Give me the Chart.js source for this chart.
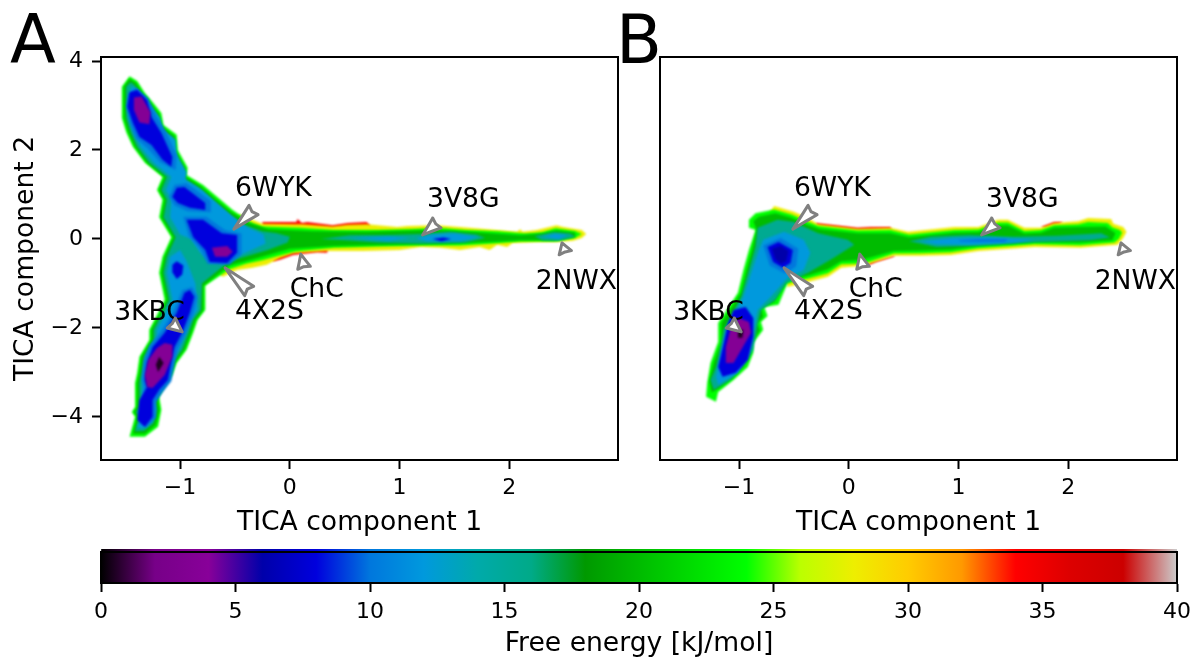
<!DOCTYPE html>
<html>
<head>
<meta charset="utf-8">
<title>Free energy landscape</title>
<script src="https://cdn.jsdelivr.net/npm/chart.js@4"></script>
<style>
    html, body { margin: 0; padding: 0; background: #fff; }
    canvas { position: absolute; }
    .tag { position: absolute; font: 67px/1 'DejaVu Sans'; color: #000; }
</style>
</head>
<body>
<canvas id="panelA" width="640" height="540" style="left:0;top:0;width:640px;height:540px"></canvas>
<canvas id="panelB" width="552" height="540" style="left:640px;top:0;width:552px;height:540px"></canvas>
<canvas id="energyBar" width="1192" height="120" style="left:0;top:540px;width:1192px;height:120px"></canvas>
<div class="tag" style="left:10px;top:7px">A</div>
<div class="tag" style="left:616px;top:7px">B</div>
<script>
const xTicks = [-1, 0, 1, 2];
const yTicks = [-4, -2, 0, 2, 4];
const barTicks = [0, 5, 10, 15, 20, 25, 30, 35, 40];
const xLabel = 'TICA component 1';
const yLabel = 'TICA component 2';
const barLabel = 'Free energy [kJ/mol]';

// nipy_spectral, one stop every 2 kJ/mol
const barStops = ['#000000', '#770088', '#880099', '#0000aa', '#0000dd', '#0077dd', '#0099dd', '#00aaaa', '#00aa88', '#009900',
    '#00bb00', '#00dd00', '#00ff00', '#bbff00', '#eeee00', '#ffcc00', '#ff9900', '#ff0000', '#dd0000', '#cc0000', '#cccccc'];

const annLabels = ['6WYK', '4X2S', 'ChC', '3V8G', '2NWX', '3KBC'];
const annTextX = [-0.50, -0.50, 0.00, 1.25, 2.24, -1.60];
const annTextY = [0.97, -1.80, -1.30, 0.72, -1.12, -1.82];
const annTipX = [-0.51, -0.59, 0.10, 1.21, 2.48, -0.98];
const annTipY = [0.22, -0.65, -0.34, 0.09, -0.09, -2.09];
const annTailX = [-0.33, -0.37, 0.13, 1.34, 2.51, -1.08];
const annTailY = [0.65, -1.17, -0.65, 0.36, -0.31, -1.89];

// contour outlines, panel A (x, y in TICA units)
const aRedTop = [[-0.25,0.38],[0.06,0.38],[0.07,0.45],[0.11,0.36],[0.16,0.38],[0.39,0.31],[0.53,0.36],[0.70,0.38],[0.73,0.31],[0.73,0.1],[-0.25,0.1]];
const aRedLow = [[-0.2,-0.3],[0.35,-0.2],[0.34,-0.31],[0.25,-0.3],[0.03,-0.36],[-0.09,-0.47],[-0.15,-0.5]];
const aYellow = [[-0.45,0.55],[-0.34,0.43],[-0.25,0.34],[0.06,0.33],[0.11,0.33],[0.39,0.28],[0.53,0.32],[0.7,0.33],[0.98,0.27],[1.07,0.29],[1.34,0.31],[1.55,0.27],[1.8,0.22],[2.07,0.16],[2.10,0.22],[2.12,0.16],[2.25,0.20],[2.43,0.31],[2.49,0.27],[2.66,0.20],[2.70,0.11],[2.66,0.02],[2.58,-0.04],[2.43,-0.07],[2.25,-0.07],[2.03,-0.09],[1.98,-0.18],[1.89,-0.13],[1.82,-0.25],[1.73,-0.18],[1.55,-0.25],[1.37,-0.20],[1.19,-0.18],[1.00,-0.25],[0.67,-0.27],[0.53,-0.27],[0.34,-0.27],[0.03,-0.32],[-0.09,-0.43],[-0.21,-0.58],[-0.34,-0.65],[-0.48,-0.70],[-0.61,-0.85],[-0.7,-0.7],[-0.7,0.3]];
const aLime = [[-1.46,3.66],[-1.39,3.55],[-1.32,3.28],[-1.25,3.08],[-1.17,2.83],[-1.15,2.56],[-1.03,2.34],[-1.02,2.00],[-0.93,1.60],[-0.94,1.44],[-0.79,1.21],[-0.66,0.94],[-0.52,0.65],[-0.39,0.43],[-0.34,0.36],[-0.25,0.28],[0.1,0.25],[0.4,0.2],[0.8,0.2],[1.1,0.22],[1.35,0.25],[1.6,0.2],[1.9,0.17],[2.15,0.12],[2.3,0.15],[2.42,0.24],[2.6,0.18],[2.66,0.11],[2.6,0.02],[2.43,-0.05],[2.1,-0.06],[1.85,-0.1],[1.55,-0.15],[1.2,-0.15],[0.8,-0.17],[0.4,-0.2],[0.05,-0.28],[-0.1,-0.38],[-0.25,-0.48],[-0.4,-0.56],[-0.55,-0.68],[-0.62,-0.8],[-0.77,-1.05],[-0.77,-1.60],[-0.84,-1.82],[-0.88,-2.11],[-0.94,-2.49],[-1.03,-2.79],[-1.07,-3.06],[-1.14,-3.33],[-1.19,-3.55],[-1.17,-3.84],[-1.20,-4.22],[-1.32,-4.45],[-1.46,-4.45],[-1.41,-4.00],[-1.44,-3.89],[-1.41,-3.78],[-1.41,-3.24],[-1.39,-3.01],[-1.37,-2.65],[-1.28,-2.27],[-1.28,-2.04],[-1.21,-1.71],[-1.14,-1.37],[-1.19,-0.76],[-1.16,-0.40],[-1.08,0.04],[-1.19,0.49],[-1.16,0.88],[-1.21,1.10],[-1.16,1.39],[-1.32,1.71],[-1.43,2.07],[-1.49,2.40],[-1.53,2.72],[-1.53,3.42]];
const aGreen = [[-1.46,3.6],[-1.40,3.5],[-1.34,3.25],[-1.27,3.05],[-1.19,2.8],[-1.17,2.53],[-1.05,2.31],[-1.04,1.97],[-0.95,1.57],[-0.96,1.41],[-0.81,1.18],[-0.68,0.9],[-0.54,0.61],[-0.38,0.37],[-0.2,0.22],[0.2,0.17],[0.7,0.16],[1.3,0.2],[1.7,0.15],[2.1,0.08],[2.3,0.12],[2.43,0.19],[2.6,0.14],[2.6,0.05],[2.4,-0.03],[2.1,-0.03],[1.8,-0.07],[1.4,-0.11],[0.9,-0.13],[0.4,-0.16],[0.0,-0.22],[-0.15,-0.33],[-0.35,-0.47],[-0.55,-0.6],[-0.79,-1.05],[-0.79,-1.6],[-0.86,-1.82],[-0.90,-2.11],[-0.96,-2.49],[-1.05,-2.79],[-1.09,-3.06],[-1.16,-3.33],[-1.21,-3.55],[-1.19,-3.84],[-1.22,-4.18],[-1.32,-4.38],[-1.43,-4.38],[-1.39,-4.0],[-1.42,-3.89],[-1.39,-3.78],[-1.39,-3.24],[-1.37,-3.01],[-1.35,-2.65],[-1.26,-2.27],[-1.26,-2.04],[-1.19,-1.71],[-1.12,-1.37],[-1.17,-0.76],[-1.14,-0.4],[-1.06,0.04],[-1.17,0.49],[-1.14,0.88],[-1.19,1.1],[-1.14,1.39],[-1.30,1.71],[-1.41,2.07],[-1.47,2.4],[-1.51,2.72],[-1.51,3.42]];
const aTeal = [[-1.45,3.52],[-1.41,3.45],[-1.36,3.2],[-1.29,3.02],[-1.21,2.77],[-1.19,2.5],[-1.07,2.28],[-1.06,1.94],[-0.97,1.54],[-0.98,1.38],[-0.83,1.15],[-0.7,0.86],[-0.56,0.57],[-0.42,0.32],[-0.25,0.17],[-0.12,0.13],[0.0,0.05],[-0.02,-0.08],[-0.2,-0.25],[-0.38,-0.38],[-0.55,-0.5],[-0.8,-1.0],[-0.81,-1.6],[-0.88,-1.82],[-0.92,-2.11],[-0.98,-2.49],[-1.07,-2.79],[-1.11,-3.06],[-1.18,-3.33],[-1.23,-3.55],[-1.21,-3.84],[-1.24,-4.14],[-1.33,-4.32],[-1.41,-4.32],[-1.37,-4.0],[-1.4,-3.89],[-1.37,-3.78],[-1.37,-3.24],[-1.35,-3.01],[-1.33,-2.65],[-1.24,-2.27],[-1.24,-2.04],[-1.17,-1.71],[-1.1,-1.37],[-1.15,-0.76],[-1.12,-0.4],[-1.04,0.04],[-1.15,0.49],[-1.12,0.88],[-1.17,1.1],[-1.12,1.39],[-1.28,1.71],[-1.39,2.07],[-1.45,2.4],[-1.49,2.72],[-1.49,3.42]];
const aTealArm = [[0.28,0.0],[0.55,0.08],[0.9,0.09],[1.2,0.11],[1.45,0.16],[1.7,0.1],[1.78,0.02],[1.6,-0.08],[1.2,-0.1],[0.8,-0.08],[0.5,-0.03]];
const aTealEnd = [[2.23,0.06],[2.4,0.15],[2.55,0.12],[2.6,0.05],[2.45,-0.04],[2.3,-0.03]];
const aSkyTop = [[-1.44,3.42],[-1.38,3.35],[-1.33,3.15],[-1.26,2.97],[-1.18,2.72],[-1.16,2.45],[-1.04,2.23],[-1.03,1.9],[-0.94,1.5],[-0.95,1.33],[-0.8,1.1],[-0.67,0.82],[-0.52,0.5],[-0.38,0.25],[-0.24,0.1],[-0.22,-0.1],[-0.42,-0.33],[-0.58,-0.46],[-0.72,-0.55],[-0.82,-0.3],[-0.9,0.0],[-1.0,0.1],[-1.09,0.49],[-1.08,0.88],[-1.13,1.1],[-1.08,1.39],[-1.24,1.71],[-1.36,2.07],[-1.42,2.4],[-1.46,2.72],[-1.46,3.3]];
const aSkyLow = [[-1.0,-0.25],[-0.94,-0.5],[-0.86,-1.0],[-0.84,-1.6],[-0.91,-1.82],[-0.95,-2.11],[-1.01,-2.49],[-1.1,-2.79],[-1.14,-3.06],[-1.2,-3.33],[-1.25,-3.55],[-1.23,-3.84],[-1.26,-4.1],[-1.34,-4.26],[-1.39,-4.22],[-1.34,-4.0],[-1.37,-3.89],[-1.34,-3.78],[-1.34,-3.24],[-1.32,-3.01],[-1.3,-2.65],[-1.21,-2.27],[-1.21,-2.04],[-1.14,-1.71],[-1.07,-1.37],[-1.12,-0.76],[-1.09,-0.4]];
const aSkyArm1 = [[0.55,0.02],[0.9,0.05],[1.1,0.02],[0.9,-0.04]];
const aSkyArm2 = [[1.15,0.01],[1.3,0.1],[1.5,0.12],[1.72,0.04],[1.55,-0.05],[1.25,-0.05]];
const aSkyEnd = [[2.3,0.05],[2.42,0.11],[2.53,0.08],[2.45,0.0]];
const aHaloTop = [[-1.47,3.25],[-1.40,3.40],[-1.29,3.16],[-1.22,2.78],[-1.13,2.42],[-1.03,1.88],[-1.04,1.55],[-1.18,1.72],[-1.30,2.05],[-1.40,2.25],[-1.45,2.55],[-1.49,2.97]];
const aHaloMid = [[-1.05,1.22],[-0.94,1.25],[-0.72,0.85],[-0.72,0.6],[-0.93,0.62],[-1.05,0.75],[-1.10,0.95]];
const aHaloCore = [[-0.97,0.5],[-0.76,0.5],[-0.59,0.2],[-0.44,0.12],[-0.44,-0.35],[-0.55,-0.58],[-0.75,-0.56],[-0.81,-0.25],[-0.92,0.06]];
const aHaloLow = [[-0.89,-1.08],[-0.84,-1.3],[-0.88,-1.7],[-0.95,-2.15],[-1.02,-2.47],[-1.04,-2.7],[-1.08,-3.2],[-1.16,-3.45],[-1.22,-3.68],[-1.22,-4.02],[-1.31,-4.24],[-1.36,-4.15],[-1.34,-3.65],[-1.33,-3.33],[-1.35,-3.15],[-1.33,-2.75],[-1.28,-2.4],[-1.17,-2.07],[-1.06,-1.62],[-0.98,-1.15]];
const aBlueTop = [[-1.46,3.30],[-1.39,3.35],[-1.30,3.12],[-1.26,2.74],[-1.17,2.38],[-1.07,1.84],[-1.08,1.62],[-1.16,1.78],[-1.26,2.11],[-1.37,2.29],[-1.43,2.61],[-1.48,2.97]];
const aBlueMid = [[-1.03,1.15],[-0.96,1.17],[-0.77,0.81],[-0.77,0.65],[-0.91,0.70],[-1.02,0.81],[-1.07,0.94]];
const aBlueCore = [[-0.94,0.43],[-0.79,0.43],[-0.62,0.13],[-0.48,0.09],[-0.48,-0.31],[-0.57,-0.54],[-0.73,-0.52],[-0.77,-0.25],[-0.88,0.04]];
const aBlueSmall = [[-1.03,-0.5],[-0.97,-0.6],[-0.98,-0.80],[-1.03,-0.9],[-1.07,-0.75],[-1.07,-0.58]];
const aBlueLow = [[-0.91,-1.15],[-0.87,-1.30],[-0.91,-1.66],[-0.98,-2.11],[-1.05,-2.43],[-1.07,-2.65],[-1.11,-3.17],[-1.19,-3.39],[-1.25,-3.62],[-1.25,-4.00],[-1.32,-4.22],[-1.39,-4.07],[-1.37,-3.62],[-1.30,-3.33],[-1.32,-3.17],[-1.30,-2.79],[-1.25,-2.43],[-1.14,-2.11],[-1.03,-1.66],[-0.96,-1.21]];
const aBlueArm = [[1.3,0.0],[1.4,0.03],[1.47,0.0],[1.38,-0.05]];
const aPurpleTop = [[-1.42,3.18],[-1.35,3.2],[-1.27,2.85],[-1.28,2.58],[-1.37,2.62],[-1.42,2.90]];
const aPurpleMid = [[-0.71,-0.20],[-0.57,-0.16],[-0.52,-0.29],[-0.57,-0.40],[-0.68,-0.40]];
const aPurpleLow = [[-1.14,-2.34],[-1.07,-2.38],[-1.07,-2.65],[-1.14,-3.06],[-1.25,-3.35],[-1.30,-3.33],[-1.32,-3.06],[-1.29,-2.72],[-1.21,-2.45]];
const aBlack = [[-1.19,-2.65],[-1.15,-2.79],[-1.20,-2.99],[-1.22,-2.83]];

// contour outlines, panel B
const bRedTop = [[-0.3,0.36],[0.08,0.25],[0.2,0.27],[0.38,0.27],[0.4,0.1],[-0.3,0.1]];
const bRedLow = [[0.14,-0.63],[0.2,-0.5],[0.42,-0.36],[0.41,-0.40],[0.25,-0.52]];
const bRedArm = [[1.75,0.27],[1.87,0.38],[1.95,0.38],[1.85,0.2]];
const bYellow = [[-0.68,0.74],[-0.50,0.61],[-0.37,0.47],[-0.28,0.33],[0.08,0.23],[0.38,0.25],[0.54,0.16],[0.96,0.27],[1.18,0.27],[1.36,0.43],[1.45,0.43],[1.60,0.25],[1.75,0.25],[1.87,0.36],[2.09,0.40],[2.18,0.47],[2.39,0.45],[2.41,0.34],[2.50,0.27],[2.53,0.16],[2.50,0.02],[2.45,-0.13],[2.11,-0.20],[1.69,-0.18],[1.48,-0.22],[1.18,-0.27],[0.93,-0.36],[0.66,-0.38],[0.41,-0.38],[0.14,-0.60],[-0.07,-0.65],[-0.19,-0.85],[-0.37,-0.97],[-0.56,-1.08],[-0.6,-0.6],[-0.75,0.5]];
const bLime = [[-0.91,0.43],[-0.85,0.58],[-0.68,0.66],[-0.52,0.55],[-0.38,0.40],[-0.28,0.29],[0.08,0.19],[0.38,0.2],[0.55,0.1],[0.96,0.2],[1.18,0.21],[1.36,0.37],[1.45,0.37],[1.6,0.18],[1.75,0.2],[1.87,0.31],[2.09,0.33],[2.18,0.38],[2.36,0.36],[2.4,0.26],[2.47,0.2],[2.49,0.14],[2.46,0.0],[2.42,-0.08],[2.11,-0.14],[1.69,-0.12],[1.48,-0.16],[1.18,-0.21],[0.93,-0.3],[0.66,-0.32],[0.41,-0.33],[0.14,-0.55],[-0.07,-0.57],[-0.19,-0.77],[-0.37,-0.89],[-0.56,-1.0],[-0.64,-1.48],[-0.77,-1.53],[-0.74,-1.73],[-0.80,-1.87],[-0.78,-2.04],[-0.87,-2.34],[-0.87,-2.56],[-0.92,-2.88],[-1.05,-3.17],[-1.19,-3.44],[-1.21,-3.66],[-1.30,-3.55],[-1.29,-3.24],[-1.26,-2.79],[-1.19,-2.31],[-1.19,-1.89],[-1.01,-1.21],[-0.96,-0.70],[-0.91,-0.25],[-0.85,0.20],[-0.91,0.25]];
const bGreen = [[-0.87,0.4],[-0.82,0.5],[-0.67,0.58],[-0.53,0.48],[-0.38,0.32],[-0.26,0.22],[0.08,0.13],[0.38,0.13],[0.55,0.04],[0.96,0.14],[1.18,0.15],[1.36,0.3],[1.45,0.3],[1.6,0.12],[1.75,0.14],[1.87,0.25],[2.09,0.27],[2.34,0.28],[2.43,0.13],[2.4,-0.03],[2.1,-0.08],[1.69,-0.07],[1.48,-0.1],[1.18,-0.15],[0.93,-0.24],[0.66,-0.26],[0.41,-0.27],[0.12,-0.47],[-0.07,-0.5],[-0.19,-0.68],[-0.37,-0.82],[-0.56,-0.93],[-0.68,-1.42],[-0.8,-1.56],[-0.78,-1.75],[-0.84,-1.9],[-0.81,-2.05],[-0.9,-2.36],[-0.9,-2.58],[-0.96,-2.86],[-1.07,-3.14],[-1.19,-3.36],[-1.25,-3.45],[-1.27,-3.2],[-1.23,-2.79],[-1.16,-2.31],[-1.16,-1.89],[-0.98,-1.21],[-0.93,-0.70],[-0.88,-0.25],[-0.84,0.2]];
const bTeal = [[-0.83,0.25],[-0.65,0.43],[-0.50,0.38],[-0.28,0.13],[-0.01,-0.02],[0.05,-0.13],[-0.14,-0.43],[-0.37,-0.76],[-0.57,-0.99],[-0.67,-1.37],[-0.80,-1.60],[-0.83,-1.89],[-0.87,-2.49],[-0.94,-2.79],[-1.08,-3.17],[-1.23,-3.39],[-1.26,-3.17],[-1.21,-2.88],[-1.17,-2.43],[-1.14,-2.04],[-0.98,-1.30],[-0.91,-0.70],[-0.85,-0.18]];
const bTealArm = [[0.55,-0.05],[0.75,0.05],[1.1,0.09],[1.5,0.05],[1.9,0.07],[2.3,0.13],[2.38,0.03],[2.2,-0.03],[1.7,-0.07],[1.2,-0.15],[0.8,-0.18]];
const bSky = [[-0.78,-0.02],[-0.59,0.16],[-0.41,-0.02],[-0.35,-0.31],[-0.41,-0.70],[-0.56,-0.88],[-0.71,-1.30],[-0.83,-1.60],[-0.88,-2.20],[-0.91,-2.56],[-1.01,-3.01],[-1.19,-3.28],[-1.21,-3.10],[-1.17,-2.65],[-1.12,-2.11],[-0.96,-1.30],[-0.88,-0.70],[-0.82,-0.25]];
const bSkyArm = [[0.65,-0.06],[0.95,0.02],[1.3,0.03],[1.7,-0.02],[1.5,-0.08],[1.1,-0.13],[0.8,-0.12]];
const bHalo = [[-0.78,-0.15],[-0.62,0.02],[-0.46,-0.22],[-0.48,-0.62],[-0.58,-0.78],[-0.72,-0.6]];
const bBlue = [[-0.74,-0.18],[-0.64,-0.07],[-0.51,-0.25],[-0.53,-0.54],[-0.60,-0.65],[-0.69,-0.52]];
const bNavy = [[-0.70,-0.22],[-0.62,-0.16],[-0.55,-0.27],[-0.57,-0.50],[-0.62,-0.56],[-0.67,-0.45]];
const bBlueArm = [[1.0,-0.03],[1.2,0.0],[1.45,-0.01],[1.42,-0.07],[1.2,-0.07],[1.02,-0.06]];
const bBlueLow = [[-1.05,-1.60],[-0.94,-1.53],[-0.87,-1.78],[-0.87,-2.20],[-0.92,-2.72],[-1.03,-3.01],[-1.15,-3.10],[-1.19,-2.88],[-1.14,-2.34],[-1.10,-1.89]];
const bPurple = [[-1.00,-1.78],[-0.91,-1.87],[-0.89,-2.11],[-0.98,-2.49],[-1.05,-2.79],[-1.12,-2.79],[-1.12,-2.43],[-1.08,-2.04]];
const bBlack = [[-1.01,-2.04],[-0.96,-2.04],[-0.97,-2.22],[-1.01,-2.22]];

// [free energy, outline], painted in this order
const bandsA = [[34, aRedTop], [34, aRedLow], [28, aYellow], [24, aLime], [20, aGreen], [15.5, aTeal], [15.5, aTealArm], [15.5, aTealEnd],
    [12, aSkyTop], [12, aSkyLow], [12, aSkyArm1], [12, aSkyArm2], [12, aSkyEnd],
    [10, aHaloTop], [10, aHaloMid], [10, aHaloCore], [10, aHaloLow],
    [8, aBlueTop], [8, aBlueMid], [8, aBlueCore], [8, aBlueSmall], [8, aBlueLow], [8, aBlueArm],
    [3.5, aPurpleTop], [3.5, aPurpleMid], [3.5, aPurpleLow], [0.5, aBlack]];
const bandsB = [[34, bRedTop], [34, bRedLow], [34, bRedArm], [28, bYellow], [24, bLime], [20, bGreen], [15.5, bTeal], [15.5, bTealArm],
    [12, bSky], [12, bSkyArm], [10, bHalo], [8, bBlue], [6, bNavy], [10, bBlueArm], [8, bBlueLow], [3.5, bPurple], [0.5, bBlack]];

const fontName = "'DejaVu Sans'";

function hexRgb(h) {
    return [1, 3, 5].map(i => parseInt(h.substr(i, 2), 16));
}
function energyColor(f) {
    let pos = Math.min(f / 2, barStops.length - 1.001);
    let i = Math.floor(pos);
    let a = hexRgb(barStops[i]), b = hexRgb(barStops[i + 1]);
    let c = a.map((v, k) => Math.round(v + (b[k] - v) * (pos - i)));
    return `rgb(${c[0]},${c[1]},${c[2]})`;
}
function minusSign(v) {
    return v < 0 ? '\u2212' + Math.abs(v) : String(v);
}

// fills each band's outline from the points the scatter controller placed
const contourFill = {
    id: 'contourFill',
    beforeDatasetsDraw(chart) {
        let ctx = chart.ctx;
        ctx.save();
        ctx.filter = 'blur(0.8px)';
        chart.data.datasets.forEach((ds, i) => {
            let pts = chart.getDatasetMeta(i).data;
            ctx.beginPath();
            pts.forEach((p, k) => k ? ctx.lineTo(p.x, p.y) : ctx.moveTo(p.x, p.y));
            ctx.closePath();
            ctx.fillStyle = ds.bandColor;
            ctx.fill();
        });
        ctx.restore();
    }
};

const annotations = {
    id: 'annotations',
    afterDatasetsDraw(chart) {
        let ctx = chart.ctx, sx = chart.scales.x, sy = chart.scales.y;
        ctx.save();
        ctx.font = '26.6px ' + fontName;
        ctx.fillStyle = '#000';
        ctx.textAlign = 'left';
        ctx.textBaseline = 'alphabetic';
        annLabels.forEach((t, i) => {
            ctx.fillText(t, sx.getPixelForValue(annTextX[i]), sy.getPixelForValue(annTextY[i]));
        });
        annLabels.forEach((t, i) => {
            let x0 = sx.getPixelForValue(annTipX[i]), y0 = sy.getPixelForValue(annTipY[i]);
            let x1 = sx.getPixelForValue(annTailX[i]), y1 = sy.getPixelForValue(annTailY[i]);
            let len = Math.hypot(x1 - x0, y1 - y0);
            ctx.save();
            ctx.translate(x0, y0);
            ctx.rotate(Math.atan2(y1 - y0, x1 - x0));
            ctx.beginPath();
            ctx.moveTo(0, 0);
            ctx.lineTo(len * 0.55, 3.5);
            ctx.lineTo(len, 6.5);
            ctx.lineTo(len * 0.92, 0);
            ctx.lineTo(len, -6.5);
            ctx.lineTo(len * 0.55, -3.5);
            ctx.closePath();
            ctx.fillStyle = '#fff';
            ctx.strokeStyle = '#808080';
            ctx.lineWidth = 3;
            ctx.lineJoin = 'round';
            ctx.fill();
            ctx.stroke();
            ctx.restore();
        });
        ctx.restore();
    }
};

const frame = {
    id: 'frame',
    afterDraw(chart) {
        let a = chart.chartArea, ctx = chart.ctx;
        ctx.save();
        ctx.strokeStyle = '#000';
        ctx.lineWidth = 2;
        ctx.strokeRect(a.left, a.top, a.right - a.left, a.bottom - a.top);
        ctx.restore();
    }
};

// the colours of the bar spill a little over its top line
const barFrame = {
    id: 'barFrame',
    afterDraw(chart) {
        let a = chart.chartArea, ctx = chart.ctx;
        ctx.save();
        ctx.strokeStyle = '#000';
        ctx.lineWidth = 2;
        ctx.strokeRect(a.left, a.top + 3, a.right - a.left, a.bottom - a.top - 3);
        ctx.restore();
    }
};

function axisStyle(ticksList, title, tickPad) {
    return {
        type: 'linear',
        afterBuildTicks: s => { s.ticks = ticksList.map(v => ({ value: v })); },
        grid: { drawOnChartArea: false, color: '#000', tickLength: 9, tickWidth: 2 },
        border: { color: '#000', width: 2 },
        ticks: { color: '#000', font: { family: fontName, size: 22 }, padding: tickPad, maxRotation: 0, autoSkip: false, callback: v => minusSign(v) },
        title: { display: !!title, text: title, color: '#000', font: { family: fontName, size: 26.6 }, padding: { top: 0, bottom: 1 } }
    };
}

function panel(id, bands, leftPad, showY, rightPad) {
    let xAxis = axisStyle(xTicks, xLabel, 6);
    xAxis.min = -1.72;
    xAxis.max = 2.99;
    xAxis.afterFit = s => { s.height = 80; };
    let yAxis = axisStyle(yTicks, yLabel, 9);
    yAxis.min = -4.97;
    yAxis.max = 4.09;
    yAxis.display = showY;
    yAxis.title.padding = { top: 10, bottom: 0 };
    yAxis.afterFit = s => { s.width = showY ? 101 : 0; };
    return new Chart(document.getElementById(id), {
        type: 'scatter',
        data: {
            datasets: bands.map(b => ({
                data: b[1].map(p => ({ x: p[0], y: p[1] })),
                bandColor: energyColor(b[0]),
                pointRadius: 0,
                showLine: false
            }))
        },
        options: {
            responsive: false,
            animation: false,
            layout: { padding: { left: leftPad, right: rightPad, top: 57, bottom: 0 } },
            plugins: { legend: { display: false }, tooltip: { enabled: false } },
            scales: { x: xAxis, y: yAxis }
        },
        plugins: [contourFill, annotations, frame]
    });
}

panel('panelA', bandsA, 0, true, 22);
panel('panelB', bandsB, 20, false, 15);

// colour bar: one floating bar from 0 to 40 painted with the colour map
const barAxis = axisStyle(barTicks, barLabel, 7);
barAxis.min = 0;
barAxis.max = 40;
barAxis.title.padding = { top: 0, bottom: 0 };
barAxis.afterFit = s => { s.height = 77; s.paddingRight = 15; };
new Chart(document.getElementById('energyBar'), {
    type: 'bar',
    data: {
        labels: ['F'],
        datasets: [{
            data: [[0, 40]],
            barPercentage: 1,
            categoryPercentage: 1,
            backgroundColor: c => {
                let a = c.chart.chartArea;
                if (!a) return '#000';
                let g = c.chart.ctx.createLinearGradient(a.left, 0, a.right, 0);
                barStops.forEach((s, i) => g.addColorStop(i / (barStops.length - 1), s));
                return g;
            }
        }]
    },
    options: {
        indexAxis: 'y',
        responsive: false,
        animation: false,
        layout: { padding: { left: 101, right: 15, top: 9, bottom: 0 } },
        plugins: { legend: { display: false }, tooltip: { enabled: false } },
        scales: { x: barAxis, y: { display: false } }
    },
    plugins: [barFrame]
});
</script>
</body>
</html>
